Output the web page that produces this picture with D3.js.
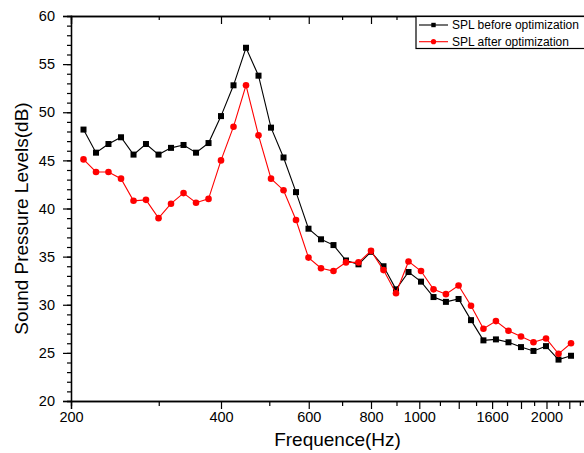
<!DOCTYPE html>
<html>
<head>
<meta charset="utf-8">
<script src="https://cdn.jsdelivr.net/npm/d3@7"></script>
<style>
  html, body { margin: 0; padding: 0; background: #fff; }
  svg { display: block; font-family: "Liberation Sans", Arial, sans-serif; }
</style>
</head>
<body>
<svg id="chart" width="584" height="453"></svg>
<script>
// ---- data ----
const frequencies = [211.9, 224.5, 237.8, 252.0, 267.0, 282.8, 299.7, 317.5, 336.4, 356.4,
                     377.6, 400.0, 423.8, 449.0, 475.7, 504.0, 534.0, 565.7, 599.3, 635.0,
                     672.7, 712.7, 755.1, 800.0, 847.6, 898.0, 951.4, 1008, 1068, 1131,
                     1199, 1270, 1345, 1425, 1510, 1600, 1695, 1796, 1903, 2016];
const splBefore = [48.2, 45.8, 46.7, 47.4, 45.6, 46.7, 45.6, 46.3, 46.6, 45.8,
                   46.8, 49.6, 52.8, 56.7, 53.8, 48.4, 45.3, 41.7, 37.9, 36.8,
                   36.2, 34.6, 34.2, 35.5, 34.0, 31.6, 33.4, 32.4, 30.8, 30.3,
                   30.6, 28.4, 26.3, 26.4, 26.1, 25.6, 25.2, 25.7, 24.3, 24.7];
const splAfter = [45.1, 43.8, 43.8, 43.1, 40.8, 40.9, 39.0, 40.5, 41.6, 40.6,
                  41.0, 45.0, 48.5, 52.8, 47.6, 43.1, 41.9, 38.8, 34.9, 33.8,
                  33.5, 34.4, 34.4, 35.6, 33.6, 31.2, 34.5, 33.5, 31.6, 31.1,
                  32.0, 29.9, 27.5, 28.3, 27.3, 26.7, 26.1, 26.5, 24.9, 26.0];
const seriesNames = ["SPL before optimization", "SPL after optimization"];
const xMajorTicks = [200, 400, 600, 800, 1000, 1200, 1400, 1600, 1800, 2000];
const xMinorTicks = [300, 500, 700, 900, 1100, 1300, 1500, 1700, 1900, 2100];
// tick labels as they appear in the figure, keyed by tick position
const xLabelTicks = [200, 400, 600, 800, 1000, 1400, 1800];
const xLabelTexts = ["200", "400", "600", "800", "1000", "1600", "2000"];
const yMajorTicks = [20, 25, 30, 35, 40, 45, 50, 55, 60];
const yMinorTicks = d3.range(20, 61, 1);
const xTitle = "Frequence(Hz)";
const yTitle = "Sound Pressure Levels(dB)";

// ---- layout ----
const svg = d3.select("#chart");
const plotLeft = 71, plotTop = 16, plotBottom = 401;
const octavePx = 150;
const xMax = 2200;
const plotRight = plotLeft + octavePx * Math.log2(xMax / 200);

const x = d3.scaleLog().domain([200, xMax]).range([plotLeft, plotRight]);
const y = d3.scaleLinear().domain([20, 60]).range([plotBottom, plotTop]);

const labelMap = new Map(xLabelTicks.map((v, i) => [v, xLabelTexts[i]]));

function styleAxis(g) {
  g.select(".domain").attr("stroke", "#000").attr("stroke-width", 1.3);
  g.selectAll(".tick line").attr("stroke", "#000").attr("stroke-width", 1.2);
  g.selectAll(".tick text").attr("fill", "#000")
    .style("font-family", '"Liberation Sans", Arial, sans-serif');
}

// bottom axis: minor then major
svg.append("g").attr("transform", `translate(0,${plotBottom})`)
  .call(d3.axisBottom(x).tickValues(xMinorTicks).tickSize(5).tickFormat(""))
  .call(styleAxis);
svg.append("g").attr("transform", `translate(0,${plotBottom})`)
  .call(d3.axisBottom(x).tickValues(xMajorTicks).tickSize(8).tickPadding(3)
        .tickFormat(d => labelMap.get(d) || ""))
  .call(styleAxis)
  .call(g => g.selectAll(".tick text").style("font-size", "14.5px"));

// top axis: ticks inward
svg.append("g").attr("transform", `translate(0,${plotTop})`)
  .call(d3.axisBottom(x).tickValues(xMinorTicks).tickSize(4).tickFormat(""))
  .call(styleAxis);
svg.append("g").attr("transform", `translate(0,${plotTop})`)
  .call(d3.axisBottom(x).tickValues(xMajorTicks).tickSize(8).tickFormat(""))
  .call(styleAxis);

// left axis
svg.append("g").attr("transform", `translate(${plotLeft},0)`)
  .call(d3.axisLeft(y).tickValues(yMinorTicks).tickSize(4).tickFormat(""))
  .call(styleAxis);
svg.append("g").attr("transform", `translate(${plotLeft},0)`)
  .call(d3.axisLeft(y).tickValues(yMajorTicks).tickSize(8).tickPadding(8).tickFormat(d3.format("d")))
  .call(styleAxis)
  .call(g => g.selectAll(".tick text").style("font-size", "14.5px"));

// titles
svg.append("text")
  .attr("x", 337.5).attr("y", 446)
  .attr("text-anchor", "middle")
  .style("font-size", "19px").attr("fill", "#000")
  .text(xTitle);
svg.append("text")
  .attr("transform", "translate(28,218.5) rotate(-90)")
  .attr("text-anchor", "middle")
  .style("font-size", "19px").attr("fill", "#000")
  .text(yTitle);

// series
const series = [
  { name: seriesNames[0], values: splBefore, color: "#000000", shape: "square" },
  { name: seriesNames[1], values: splAfter, color: "#ff0000", shape: "circle" }
];
const line = d3.line().x(d => x(d[0])).y(d => y(d[1]));

series.forEach(s => {
  const pts = frequencies.map((f, i) => [f, s.values[i]]);
  svg.append("path").datum(pts)
    .attr("fill", "none").attr("stroke", s.color).attr("stroke-width", 1.1)
    .attr("d", line);
  if (s.shape === "square") {
    svg.append("g").selectAll("rect").data(pts).join("rect")
      .attr("x", d => x(d[0]) - 3).attr("y", d => y(d[1]) - 3)
      .attr("width", 6).attr("height", 6).attr("fill", s.color);
  } else {
    svg.append("g").selectAll("circle").data(pts).join("circle")
      .attr("cx", d => x(d[0])).attr("cy", d => y(d[1]))
      .attr("r", 3.3).attr("fill", s.color);
  }
});

// legend
const lg = svg.append("g");
lg.append("rect").attr("x", 416).attr("y", 16.5).attr("width", 200).attr("height", 32)
  .attr("fill", "#fff").attr("stroke", "#000").attr("stroke-width", 1.2);
series.forEach((s, i) => {
  const cy = 25 + i * 16.7;
  lg.append("line").attr("x1", 419).attr("x2", 448).attr("y1", cy).attr("y2", cy)
    .attr("stroke", s.color).attr("stroke-width", 1.1);
  if (s.shape === "square") {
    lg.append("rect").attr("x", 431.3).attr("y", cy - 2.2).attr("width", 4.4).attr("height", 4.4)
      .attr("fill", s.color);
  } else {
    lg.append("circle").attr("cx", 433.5).attr("cy", cy).attr("r", 2.6).attr("fill", s.color);
  }
  lg.append("text").attr("x", 452).attr("y", cy + 4.3)
    .style("font-size", "12px").attr("fill", "#000").text(s.name);
});
</script>
</body>
</html>
